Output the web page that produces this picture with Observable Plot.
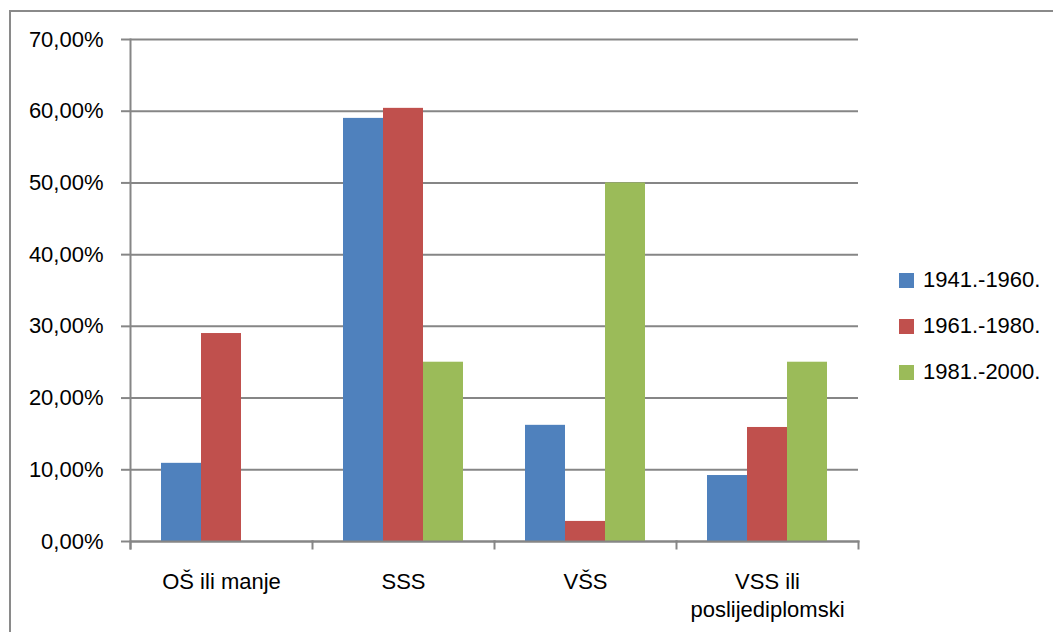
<!DOCTYPE html>
<html>
<head>
<meta charset="utf-8">
<script src="https://cdn.jsdelivr.net/npm/d3@7"></script>
<script src="https://cdn.jsdelivr.net/npm/@observablehq/plot@0.6"></script>
<style>
  html, body { margin: 0; padding: 0; background: #fff; }
  #wrap { position: relative; width: 1053px; height: 632px; overflow: hidden; font-family: "Liberation Sans", sans-serif; }
  #border { position: absolute; left: 9px; top: 10px; width: 1100px; height: 700px; border-left: 2px solid #8a8a8a; border-top: 2px solid #8a8a8a; box-sizing: border-box; }
  #chart { position: absolute; left: 0; top: 0; }
  #legend { position: absolute; left: 899px; top: 257px; font-size: 22px; color: #000; }
  .item { display: flex; align-items: center; height: 46px; }
  .sw { width: 15px; height: 15px; margin-right: 9px; }
</style>
</head>
<body>
<div id="wrap">
  <div id="border"></div>
  <div id="chart"></div>
  <div id="legend"></div>
</div>
<script>
const categories = ["OŠ ili manje", "SSS", "VŠS", "VSS ili\nposlijediplomski"];
const series = ["1941.-1960.", "1961.-1980.", "1981.-2000."];
const colors = ["#4F81BD", "#C0504D", "#9BBB59"];
const values1941 = [0.109, 0.590, 0.162, 0.092];
const values1961 = [0.290, 0.604, 0.028, 0.159];
const values1981 = [0.000, 0.250, 0.500, 0.250];
const yTicks = [0, 0.1, 0.2, 0.3, 0.4, 0.5, 0.6, 0.7];

const seriesValues = [values1941, values1961, values1981];
const data = [];
categories.forEach((c, i) => {
  series.forEach((s, j) => data.push({category: c, series: s, value: seriesValues[j][i]}));
});

const gray = "#868686";
const plot = Plot.plot({
  width: 1053,
  height: 632,
  marginLeft: 130,
  marginRight: 195,
  marginTop: 39,
  marginBottom: 91,
  style: {fontFamily: "Liberation Sans, sans-serif", fontSize: "22px", color: "#000", background: "transparent"},
  fx: {domain: categories, padding: 0, axis: null},
  x: {domain: series, paddingInner: 0, paddingOuter: 0.75, axis: null},
  y: {domain: [0, 0.7], axis: null},
  color: {domain: series, range: colors},
  marks: [
    Plot.gridY(yTicks, {stroke: gray, strokeOpacity: 1, strokeWidth: 2}),
    Plot.barY(data, {fx: "category", x: "series", y: "value", fill: "series"}),
    Plot.frame({anchor: "bottom", stroke: gray, strokeWidth: 2}),
    Plot.frame({anchor: "left", stroke: gray, strokeWidth: 2, insetTop: 502, insetBottom: -7}),
    Plot.frame({anchor: "right", facetAnchor: "right", stroke: gray, strokeWidth: 2, insetTop: 502, insetBottom: -7}),
    Plot.frame({anchor: "left", facetAnchor: "left", stroke: gray, strokeWidth: 2, insetBottom: -7}),
    Plot.axisY(yTicks, {
      tickFormat: d => (d * 100).toFixed(2).replace(".", ",") + "%",
      tickSize: 9, tickPadding: 18, stroke: gray, strokeWidth: 2, fontSize: 22, label: null, fill: "#000"
    }),
    Plot.axisFx({anchor: "bottom", tickSize: 0, tickPadding: 28, lineHeight: 1.27, fontSize: 22, label: null, fill: "#000"})
  ]
});
document.getElementById("chart").appendChild(plot);

const legend = document.getElementById("legend");
series.forEach((s, i) => {
  const item = document.createElement("div");
  item.className = "item";
  const sw = document.createElement("div");
  sw.className = "sw";
  sw.style.background = colors[i];
  const t = document.createElement("span");
  t.textContent = s;
  item.appendChild(sw);
  item.appendChild(t);
  legend.appendChild(item);
});
</script>
</body>
</html>
